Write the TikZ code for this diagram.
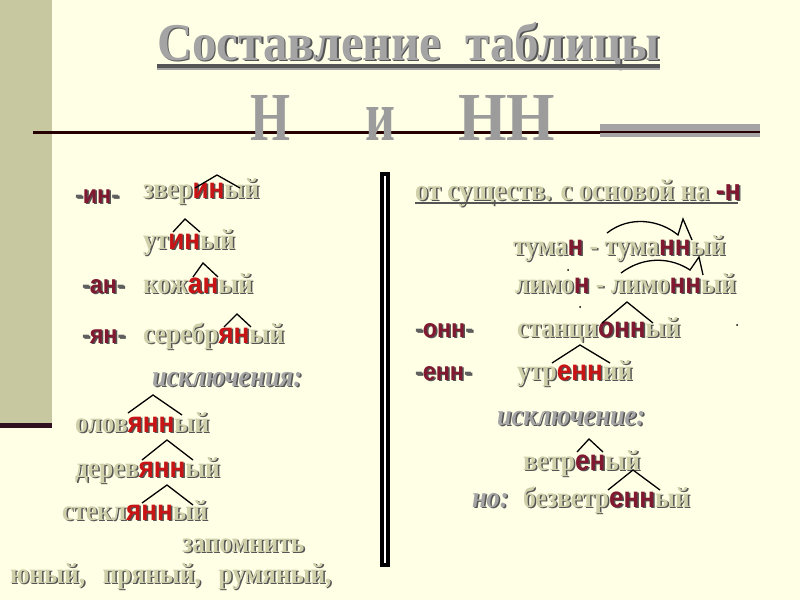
\documentclass[tikz,border=0pt]{standalone}
\usepackage{fontspec}
\usepackage{graphicx}
\newfontfamily\fser[FakeStretch=0.88]{Liberation Serif}
\newfontfamily\fsans[FakeStretch=0.9]{Liberation Sans}
\newfontfamily\fserT{Liberation Serif}
\definecolor{bg}{HTML}{FFFFE6}
\definecolor{band}{HTML}{C8C8A0}
\definecolor{bandline}{HTML}{301020}
\definecolor{bd}{HTML}{CFCFAA}
\definecolor{shd}{HTML}{555555}
\definecolor{hr}{HTML}{C81414}
\definecolor{hm}{HTML}{801830}
\definecolor{gy}{HTML}{A4A4A4}
\definecolor{dg}{HTML}{606060}
\newcommand\hlR[1]{{\fsans\bfseries\textcolor{hr}{#1}}}
\newcommand\hlM[1]{{\fsans\bfseries\textcolor{hm}{#1}}}
\newcommand\emb[5]{%
  \begin{scope}
    \colorlet{hr}{shd}\colorlet{hm}{shd}\colorlet{bd}{shd}\colorlet{gy}{shd}\colorlet{dg}{shd}
    \node[#1, text=shd] (#2-s) at (#3+1.5,#4+1.5) {#5};
  \end{scope}
  \node[#1] (#2) at (#3,#4) {#5};
}
\tikzset{
  wd/.style={anchor=base west, inner sep=0pt, outer sep=0pt, text=bd, font=\fser\bfseries\fontsize{29}{31}\selectfont},
  hd/.style={anchor=base west, inner sep=0pt, outer sep=0pt, text=bd, font=\fser\bfseries\fontsize{30}{32}\selectfont},
  pre/.style={anchor=base west, inner sep=0pt, outer sep=0pt, text=dg, font=\fsans\bfseries\fontsize{26}{28}\selectfont},
  ital/.style={anchor=base west, inner sep=0pt, outer sep=0pt, text=gy, font=\fser\bfseries\itshape\fontsize{30}{32}\selectfont},
  ttl/.style={anchor=base west, inner sep=0pt, outer sep=0pt, text=gy},
  big/.style={anchor=base west, inner sep=0pt, outer sep=0pt, text=gy!95!black},
  caret/.style={draw=black, line width=1.3pt, line join=miter},
}
\begin{document}
\begin{tikzpicture}[x=1pt,y=-1pt]
\useasboundingbox (0,0) rectangle (800,600);
\fill[bg] (0,0) rectangle (800,600);
% left band
\fill[band] (0,0) rectangle (52,425);
\fill[bandline] (0,423) rectangle (52,428);
% title
\emb{ttl}{title}{157}{60}{\resizebox{503pt}{38pt}{\fserT\bfseries Составление\ \ таблицы}}
\fill[shd] (157,64) rectangle (660,68);
\fill[gy] (157,68) rectangle (660,70);
% rule line and bar
\fill[black!85!red] (33,131) rectangle (760,134);
\fill[gy] (600,124) rectangle (760,137);
\fill[black!85!red] (600,131) rectangle (760,133);
% big letters
\node[big] (bigH) at (250,140) {\resizebox{40pt}{45pt}{\fserT\bfseries Н}};
\node[big] (bigi) at (365,140) {\resizebox{30pt}{33pt}{\fserT\bfseries и}};
\node[big] (bigHH) at (458,140) {\resizebox{97pt}{45pt}{\fserT\bfseries НН}};
% vertical double bar
\fill[black] (380,172) rectangle (390,567);
\fill[white] (384,176) rectangle (386,563);
% ---------------- left column
\emb{pre}{pin}{75}{203}{-\hlM{ин}-}
\emb{wd}{w1}{143}{198}{звер\hlR{ин}ый}
\emb{wd}{w2}{143}{249}{ут\hlR{ин}ый}
\emb{pre}{pan}{82}{293}{-\hlM{ан}-}
\emb{wd}{w3}{143}{293}{кож\hlR{ан}ый}
\emb{pre}{pyan}{82}{343}{-\hlM{ян}-}
\emb{wd}{w4}{143}{343}{серебр\hlR{ян}ый}
\emb{ital}{isk1}{152}{386}{исключения:}
\emb{wd}{w5}{75}{432}{олов\hlR{янн}ый}
\emb{wd}{w6}{75}{477}{дерев\hlR{янн}ый}
\emb{wd}{w7}{62}{520}{стекл\hlR{янн}ый}
\emb{wd}{zap}{182}{552}{запомнить}
\emb{wd}{list}{10}{583}{юный,\hspace{0.6em}пряный,\hspace{0.6em}румяный,}
% carets left
\draw[caret] (195,188) -- (217,175) -- (240,188);
\draw[caret] (173,232) -- (185,219) -- (200,232);
\draw[caret] (193,277) -- (203,263) -- (218,277);
\draw[caret] (224,327) -- (237,314) -- (251,327);
\draw[caret] (128,413) -- (153,395) -- (182,415);
\draw[caret] (142,460) -- (167,440) -- (193,460);
\draw[caret] (142,503) -- (167,485) -- (193,505);
% ---------------- right column
\emb{hd}{head}{415}{200}{от существ. с основой на \hlM{-н}}
\fill[shd] (415,202) rectangle (738,204);
\emb{wd}{r1}{513}{255}{тума\hlM{н} - тума\hlM{нн}ый}
\emb{wd}{r2}{515}{293}{лимо\hlM{н} - лимо\hlM{нн}ый}
\emb{pre}{ponn}{415}{337}{-\hlM{онн}-}
\emb{wd}{r3}{517}{337}{станци\hlM{онн}ый}
\emb{pre}{penn}{415}{380}{-\hlM{енн}-}
\emb{wd}{r4}{517}{380}{утр\hlR{енн}ий}
\emb{ital}{isk2}{497}{425}{исключение:}
\emb{wd}{r5}{523}{470}{ветр\hlM{ен}ый}
\emb{ital}{no}{472}{507}{но:}
\emb{wd}{r6}{523}{507}{безветр\hlM{енн}ый}
% carets / arcs right
\draw[caret] (607,233) .. controls (630,215) and (660,220) .. (678,235) -- (683,219) -- (692,240);
\draw[caret] (621,273) .. controls (645,255) and (672,258) .. (690,270) -- (699,257) -- (703,275);
\draw[caret] (602,323) -- (627,302) -- (653,323);
\draw[caret] (552,363) -- (580,345) -- (610,363);
\draw[caret] (577,452) -- (589,439) -- (603,452);
\draw[caret] (608,490) -- (633,470) -- (660,490);
% dots
\fill[black] (568,270) circle (1);
\fill[black] (580,307) circle (1);
\fill[black] (737,325) circle (1);
\end{tikzpicture}
\end{document}
